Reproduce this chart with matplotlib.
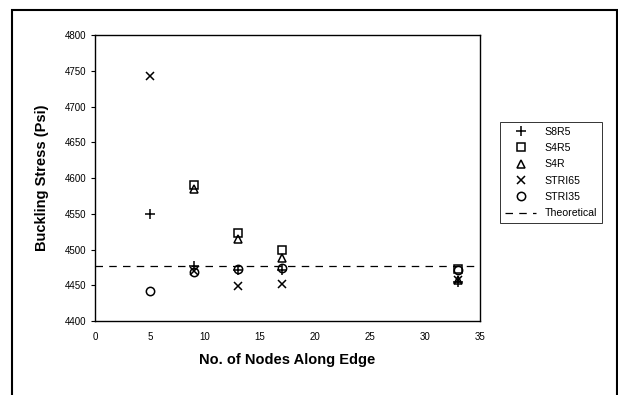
import matplotlib.pyplot as plt
from matplotlib.patches import Rectangle

plt.rcParams["font.family"] = ["Liberation Sans", "DejaVu Sans"]

nodes = [5, 9, 13, 17, 33]
s8r5 = [4550, 4477, 4472, 4471, 4455]
s4r5 = [None, 4590, 4523, 4499, 4473]
s4r = [None, 4585, 4515, 4488, 4458]
stri65 = [4743, 4470, 4449, 4452, 4457]
stri35 = [4442, 4468, 4473, 4474, 4471]
theoretical = 4477

series = [
    ("S8R5", s8r5, "+", 7),
    ("S4R5", s4r5, "s", 5.5),
    ("S4R", s4r, "^", 5.5),
    ("STRI65", stri65, "x", 5.5),
    ("STRI35", stri35, "o", 6),
]

fig = plt.figure(figsize=(6.18, 3.95), dpi=100)
ax = fig.add_axes([0.1537, 0.1873, 0.623, 0.724])

for name, vals, marker, size in series:
    xs = [x for x, v in zip(nodes, vals) if v is not None]
    ys = [v for v in vals if v is not None]
    ax.plot(xs, ys, linestyle="none", marker=marker, markersize=size,
            markerfacecolor="none", markeredgecolor="black",
            markeredgewidth=1.1, label=name)

ax.axhline(theoretical, color="black", linestyle=(0, (6, 5)), linewidth=0.9,
           label="Theoretical")

ax.set_xlim(0, 35)
ax.set_ylim(4400, 4800)
ax.set_xticks(range(0, 36, 5))
ax.set_yticks(range(4400, 4801, 50))
ax.tick_params(axis="both", labelsize=7, color="black")
ax.tick_params(axis="x", length=0, pad=8)
ax.tick_params(axis="y", length=3, width=0.8)
for sp in ax.spines.values():
    sp.set_linewidth(1.0)
    sp.set_color("black")

ax.set_xlabel("No. of Nodes Along Edge", fontsize=10.5, fontweight="bold",
              labelpad=8)
ax.set_ylabel("Buckling Stress (Psi)", fontsize=10.5, fontweight="bold",
              labelpad=11)

leg = fig.legend(loc="upper left", bbox_to_anchor=(0.809, 0.691),
                 fontsize=7.6, frameon=True, fancybox=False,
                 handlelength=3.0, handletextpad=0.8, labelspacing=0.6,
                 borderpad=0.45, borderaxespad=0)
leg.get_frame().set_edgecolor("black")
leg.get_frame().set_linewidth(0.7)

# outer chart border
fig.patches.append(Rectangle((12 / 618, -0.05), (617 - 12) / 618, 1.05 - 10 / 395,
                             transform=fig.transFigure, fill=False,
                             edgecolor="black", linewidth=1.5))

fig.savefig("out.png", dpi=100)
